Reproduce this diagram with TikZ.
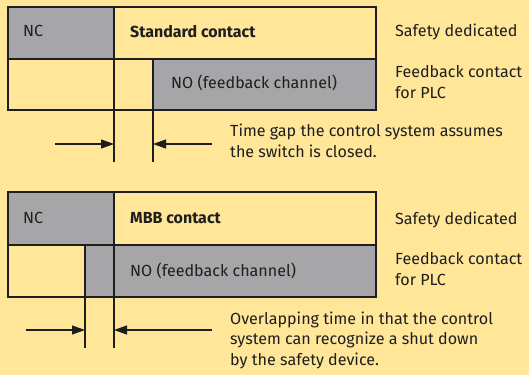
\documentclass[tikz,border=0pt]{standalone}
\usepackage{fontspec}
\setmainfont{Fira Sans}
\usetikzlibrary{arrows.meta}
\definecolor{bgyel}{HTML}{FFE699}
\definecolor{cgray}{HTML}{A6A6A9}
\definecolor{ink}{HTML}{1E1E1E}
\begin{document}
\begin{tikzpicture}[x=1pt,y=-1pt,
  every node/.style={inner sep=0pt, text=ink},
  lbl/.style={anchor=base west, font=\fontsize{16.1}{20.5}\selectfont, align=left},
  blbl/.style={lbl, font=\fontsize{16}{20.5}\selectfont\bfseries},
  edge/.style={draw=ink, line width=1.1pt},
  dimarrow/.style={draw=ink, line width=1.1pt, -{Triangle[length=13pt,width=9pt]}}]
\path[fill=bgyel] (0,0) rectangle (529,375);
\useasboundingbox (0,0) rectangle (529,375);
% ---------- top diagram ----------
\fill[cgray] (8,7) rectangle (114,59);
\fill[cgray] (153,59) rectangle (376,110);
\draw[edge] (8,7) rectangle (376,110);
\draw[edge] (8,59) -- (376,59);
\draw[edge] (114,7) -- (114,162);
\draw[edge] (153,59) -- (153,162);
\coordinate (t1) at (114,144);
\coordinate (t2) at (153,144);
\coordinate (t1s) at (55,144);
\coordinate (t2s) at (212,144);
\draw[dimarrow] (t1s) -- (t1);
\draw[dimarrow] (t2s) -- (t2);
\node[lbl] (nc1) at (23,36) {NC};
\node[blbl] (sc) at (130,37) {Standard contact};
\node[lbl] (no1) at (171,88) {NO (feedback channel)};
\node[lbl] (sd1) at (395,36) {Safety dedicated};
\node[lbl] (fb1) at (395,98) {Feedback contact\\for PLC};
\node[lbl] (tg) at (230,157) {Time gap the control system assumes\\the switch is closed.};
% ---------- bottom diagram ----------
\fill[cgray] (8,192) rectangle (114,245);
\fill[cgray] (85,245) rectangle (376,297);
\draw[edge] (8,192) rectangle (376,297);
\draw[edge] (8,245) -- (376,245);
\draw[edge] (114,192) -- (114,348);
\draw[edge] (85,245) -- (85,348);
\coordinate (b1) at (85,330);
\coordinate (b2) at (114,330);
\coordinate (b1s) at (26,330);
\coordinate (b2s) at (212,330);
\draw[dimarrow] (b1s) -- (b1);
\draw[dimarrow] (b2s) -- (b2);
\node[lbl] (nc2) at (23,223) {NC};
\node[blbl] (mbb) at (130,223) {MBB contact};
\node[lbl] (no2) at (130,276) {NO (feedback channel)};
\node[lbl] (sd2) at (395,224) {Safety dedicated};
\node[lbl] (fb2) at (395,285) {Feedback contact\\for PLC};
\node[lbl] (ov) at (230,365) {Overlapping time in that the control\\system can recognize a shut down\\by the safety device.};
\end{tikzpicture}
\end{document}
